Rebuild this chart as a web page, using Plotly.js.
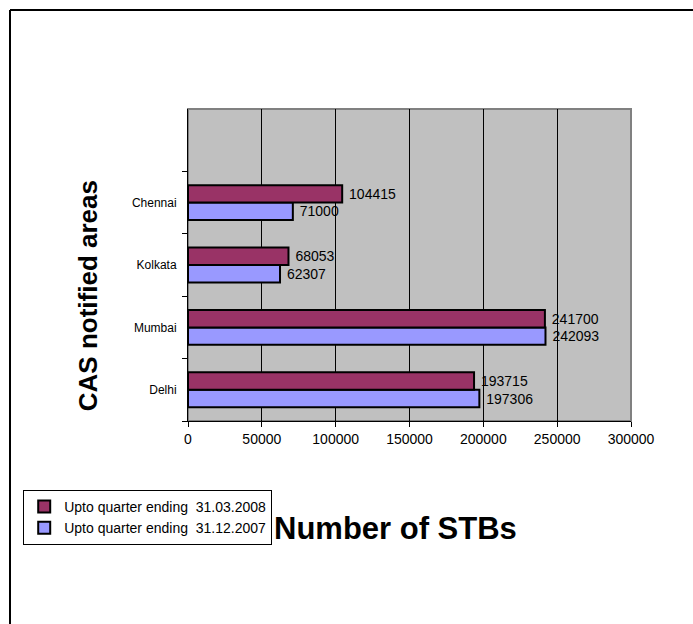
<!DOCTYPE html>
<html>
<head>
<meta charset="utf-8">
<script src="https://cdn.plot.ly/plotly-3.0.1.min.js"></script>
<style>html,body{margin:0;padding:0;background:#fff;}#chart{width:693px;height:624px;}</style>
</head>
<body>
<div id="chart"></div>
<script>
const categories = ['Delhi', 'Mumbai', 'Kolkata', 'Chennai'];
const seriesNames = ['Upto quarter ending  31.12.2007', 'Upto quarter ending  31.03.2008'];
const values2007 = [197306, 242093, 62307, 71000];
const values2008 = [193715, 241700, 68053, 104415];
const xTicks = [0, 50000, 100000, 150000, 200000, 250000, 300000];

const FONT = 'Arial, "Liberation Sans", sans-serif';

function barTrace(name, vals, color) {
  return {
    type: 'bar', orientation: 'h', name: name,
    x: vals, y: categories,
    text: vals.map(v => ' ' + v), textposition: 'outside', constraintext: 'none',
    cliponaxis: false,
    textfont: {family: FONT, size: 14, color: '#000'},
    marker: {color: color, line: {color: '#000', width: 2}},
    hoverinfo: 'x+y'
  };
}

const data = [
  barTrace(seriesNames[0], values2007, '#9999FF'),
  barTrace(seriesNames[1], values2008, '#993366')
];

const layout = {
  width: 693, height: 624,
  margin: {l: 188, r: 62, t: 109, b: 203},
  paper_bgcolor: '#fff', plot_bgcolor: '#C0C0C0',
  font: {family: FONT, color: '#000', size: 12},
  barmode: 'group', bargap: 0.44, bargroupgap: 0,
  showlegend: true,
  legend: {
    x: -0.372, y: -0.221, xanchor: 'left', yanchor: 'top',
    bgcolor: '#fff', bordercolor: '#000', borderwidth: 1,
    traceorder: 'reversed', itemwidth: 30, tracegroupgap: 0,
    font: {family: FONT, size: 14, color: '#000'}
  },
  xaxis: {
    range: [0, 300000], tickvals: xTicks, ticktext: xTicks.map(String),
    showgrid: true, gridcolor: '#000', gridwidth: 1,
    showline: true, linecolor: '#000', linewidth: 1,
    ticks: 'outside', ticklen: 5, tickcolor: '#000',
    tickfont: {family: FONT, size: 14, color: '#000'},
    zeroline: false, fixedrange: true
  },
  yaxis: {
    type: 'category', categoryorder: 'array', categoryarray: categories,
    range: [-0.5, 4.5], tickson: 'boundaries',
    showgrid: false, showline: true, linecolor: '#000', linewidth: 1,
    ticks: 'outside', ticklen: 5, tickcolor: '#000',
    ticklabelstandoff: 8,
    tickfont: {family: FONT, size: 12, color: '#000'},
    zeroline: false, fixedrange: true
  },
  annotations: [
    {text: '<b>Number of STBs</b>', xref: 'paper', yref: 'paper', x: 0.4673, y: -0.343,
     xanchor: 'center', yanchor: 'middle', showarrow: false,
     font: {family: FONT, size: 31, color: '#000'}},
    {text: '<b>CAS notified areas</b>', xref: 'paper', yref: 'paper', x: -0.2257, y: 0.40,
     xanchor: 'center', yanchor: 'middle', showarrow: false, textangle: -90,
     font: {family: FONT, size: 26, color: '#000'}}
  ],
  shapes: [
    {type: 'rect', xref: 'paper', yref: 'paper', x0: 0, x1: 1, y0: 0, y1: 1,
     line: {color: '#808080', width: 2}, fillcolor: 'rgba(0,0,0,0)', layer: 'below'},
    {type: 'line', xref: 'paper', yref: 'paper', x0: -0.4018, x1: 1.2, y0: 1.3173, y1: 1.3173,
     line: {color: '#000', width: 2}},
    {type: 'line', xref: 'paper', yref: 'paper', x0: -0.4018, x1: -0.4018, y0: -0.8, y1: 1.3173,
     line: {color: '#000', width: 2}}
  ]
};

Plotly.newPlot('chart', data, layout, {displayModeBar: false, staticPlot: true});
</script>
</body>
</html>
